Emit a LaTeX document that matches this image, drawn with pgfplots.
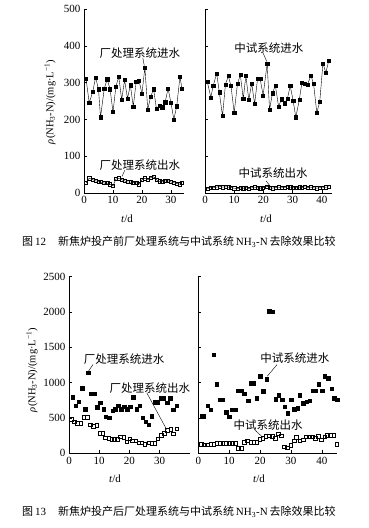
\documentclass[border=0pt]{standalone}
\usepackage{pgfplots}
\pgfplotsset{compat=1.18}
\usepackage{fontspec}
\setmainfont{Liberation Serif}
\newfontfamily\cjk{Noto Sans CJK SC}

\pgfplotsset{
  base/.style={
    scale only axis,
    anchor=south west,
    axis x line=bottom, axis y line=left,
    axis line style={-, line width=0.6pt},
    tick align=inside,
    major tick length=3pt,
    tick style={line width=0.5pt, black},
    xmin=0, ymin=0,
    clip=false,
    /pgf/number format/assume math mode=true,
    /pgf/number format/set thousands separator={},
    ticklabel style={font=\fontsize{11}{13}\selectfont},
  },
  inl/.style={black, line width=0.4pt, mark=square*, mark size=1.6pt, mark options={solid, fill=black}},
  outl/.style={black, line width=0.4pt, mark=square, mark size=1.6pt, mark options={solid, fill=white}},
  inb/.style={black, only marks, mark=square*, mark size=1.7pt, mark options={fill=black}},
  outb/.style={black, only marks, mark=square, mark size=1.8pt, mark options={fill=white, line width=0.5pt}},
}
\tikzset{lab/.style={font=\cjk\fontsize{11.5}{13}\selectfont, inner sep=0pt}}

\begin{document}
\begin{tikzpicture}
\path[use as bounding box] (0,0) rectangle (368pt,528pt);

% ---------- Fig 12 left ----------
\begin{axis}[base, at={(84pt,335pt)}, width=100pt, height=184pt,
  xmax=34.5, ymax=500, xtick={0,10,20,30}, ytick={0,100,200,300,400,500}]
\addplot[inl] coordinates {
(0.7,311)(1.8,245)(3,275)(4,314)(5,282)(5.7,206)(7,284)(8,309)(9,282)(10,220)
(11,289)(12,316)(13,253)(14,307)(15,257)(16,293)(17,235)(18,302)(19,305)(20,270)
(21,341)(22,227)(23,262)(24,282)(25,229)(26,238)(27,233)(28,247)(29,284)(30,245)
(31,200)(32,236)(33.1,316)(33.8,284)};
\addplot[outl] coordinates {
(0.7,27)(1.8,40)(3,36)(4,33)(5,31)(5.7,30)(7,27)(8,27)(9,24)(10,19)
(11,38)(12,40)(13,36)(14,33)(15,30)(16,30)(17,28)(18,28)(19,24)(20,36)
(21,40)(22,36)(23,42)(24,44)(25,36)(26,32)(27,30)(28,33)(29,33)(30,30)
(31,28)(32,26)(33.1,24)(33.8,28)};
\node[lab] at (axis cs:19.3,380) {厂处理系统进水};
\draw[line width=0.4pt] (axis cs:20.3,367) -- (axis cs:20.8,346);
\node[lab] at (axis cs:19.3,76) {厂处理系统出水};
\draw[line width=0.4pt] (axis cs:14.1,62) -- (axis cs:13.1,45);
\end{axis}

% ---------- Fig 12 right ----------
\begin{axis}[base, at={(205pt,335pt)}, width=127pt, height=184pt,
  xmax=43.5, ymax=500, xtick={0,10,20,30,40}, ytick={0,100,200,300,400,500}, yticklabels={}]
\addplot[inl] coordinates {
(0.8,302)(2,260)(2.8,291)(4,325)(4.9,274)(6,209)(7,295)(8,318)(8.9,291)(10,218)
(11.1,296)(12.1,321)(13.1,256)(14,319)(15,253)(16,298)(17,242)(18,310)(18.9,310)(19.9,265)
(21.3,352)(22.1,226)(23.1,271)(24.1,292)(25.2,235)(26.2,255)(27.2,244)(28.2,256)(29.2,291)(30.2,250)
(31.1,206)(32.3,253)(33.2,300)(34.1,297)(35.1,295)(36.3,319)(37.2,296)(38.3,218)(39.3,248)(40.4,352)
(41.4,327)(42.4,360)};
\addplot[outl] coordinates {
(0.8,12)(2,15)(2.8,14)(4,16)(4.9,18)(6,16)(7,17)(8,16)(8.9,15)(10,13)
(11.1,12)(12.1,14)(13.1,13)(14,15)(15,12)(16,14)(17,16)(18,14)(18.9,13)(19.9,15)
(21.3,18)(22.1,14)(23.1,13)(24.1,15)(25.2,16)(26.2,14)(27.2,15)(28.2,17)(29.2,16)(30.2,15)
(31.1,14)(32.3,16)(33.2,15)(34.1,17)(35.1,15)(36.3,16)(37.2,14)(38.3,13)(39.3,15)(40.4,14)
(41.4,16)(42.4,17)};
\node[lab] at (axis cs:21.9,394) {中试系统进水};
\draw[line width=0.4pt] (axis cs:19.9,380) -- (axis cs:21.2,357);
\node[lab] at (axis cs:23.3,54) {中试系统出水};
\draw[line width=0.4pt] (axis cs:20.9,33) -- (axis cs:22.3,19);
\end{axis}

% ---------- Fig 13 left ----------
\begin{axis}[base, at={(69pt,74.7pt)}, width=121pt, height=176.6pt,
  xmax=40, ymax=2500, xtick={0,10,20,30}, ytick={0,500,1000,1500,2000,2500}]
\addplot[inb] coordinates {
(1.2,792)(2.3,670)(3.3,731)(4.3,920)(5.3,627)(6.3,1142)(7.3,840)(8.3,840)(9.3,651)(10.3,717)
(11.4,623)(12.2,519)(13.3,505)(14.4,604)(15.3,623)(16.3,670)(17.3,623)(18.2,660)(19.2,623)(20.2,660)
(21.2,792)(22.3,623)(23.4,670)(24.3,505)(25.3,448)(26.3,401)(27.3,528)(28.4,726)(29.3,726)(30.4,778)
(31.4,778)(32.5,717)(33.5,778)(34.5,613)(35.6,670)};
\addplot[outb] coordinates {
(0.7,486)(1.7,448)(2.7,425)(3.9,425)(4.9,509)(6.0,509)(7.0,406)(8.1,387)(9.2,396)(10.2,283)
(11.1,283)(12.0,222)(13.1,212)(14.1,198)(15.0,198)(16.0,198)(17.0,236)(18.1,226)(19.1,165)(20.1,208)
(21.0,179)(22.1,179)(23.0,151)(24.1,151)(25.1,132)(26.3,151)(27.3,142)(28.4,142)(29.4,208)(30.4,259)
(31.4,283)(32.5,330)(33.6,340)(34.5,274)(35.6,349)};
\node[lab] at (axis cs:18.2,1339) {厂处理系统进水};
\draw[line width=0.4pt] (axis cs:7.9,1256) -- (axis cs:6.4,1160);
\node[lab] at (axis cs:26.7,928) {厂处理系统出水};
\draw[line width=0.4pt] (axis cs:25.7,857) -- (axis cs:32.3,335);
\end{axis}

% ---------- Fig 13 right ----------
\begin{axis}[base, at={(198.3pt,74.7pt)}, width=139pt, height=176.6pt,
  xmax=45, ymax=2500, xtick={0,10,20,30,40}, ytick={0,500,1000,1500,2000,2500}, yticklabels={}]
\addplot[inb] coordinates {
(1.1,528)(1.8,528)(3.0,675)(4.0,613)(5.0,1396)(6.0,976)(7.1,755)(7.9,755)(9.0,580)(10.0,519)
(11.0,613)(12.0,613)(12.9,887)(13.9,887)(14.9,840)(16.1,745)(17.0,990)(17.9,990)(19.0,778)(20.0,1094)
(21.0,877)(22.1,1047)(22.9,2014)(24.0,2005)(25.1,764)(26.1,821)(27.1,755)(28.0,660)(29.0,566)(30.1,755)
(31.0,623)(32.1,637)(32.9,825)(34.0,708)(35.0,731)(36.0,745)(37.1,887)(37.9,887)(38.9,976)(40.1,887)
(41.0,1094)(42.1,1061)(43.2,915)(44.0,778)(45.0,755)};
\addplot[outb] coordinates {
(0.9,132)(1.8,123)(3.0,123)(4.0,132)(5.0,132)(6.0,142)(7.1,142)(7.9,142)(9.0,142)(10.0,142)
(11.0,142)(12.0,142)(12.9,71)(13.9,71)(14.9,160)(15.9,179)(17.0,160)(17.9,160)(18.9,160)(19.9,198)
(20.9,212)(21.8,245)(22.9,250)(23.9,245)(24.9,212)(25.9,274)(26.8,250)(27.9,94)(28.8,80)(29.9,118)
(31.0,179)(31.8,226)(32.8,179)(33.9,189)(34.9,236)(35.9,236)(36.8,236)(37.8,212)(38.8,245)(39.9,189)
(40.9,236)(41.8,259)(42.8,259)(43.8,259)(44.8,132)};
\node[lab] at (axis cs:31.3,1354) {中试系统进水};
\draw[line width=0.4pt] (axis cs:25.5,1256) -- (axis cs:22.3,1090);
\node[lab] at (axis cs:22.6,402) {中试系统出水};
\draw[line width=0.4pt] (axis cs:18.3,331) -- (axis cs:20.9,225);
\end{axis}

% ---------- axis titles and captions ----------
\node[rotate=90, font=\fontsize{10.5}{12}\selectfont, inner sep=0pt] at (50pt,426pt)
  {{\itshape ρ}(NH\textsubscript{3}-N)/(mg·L\textsuperscript{−1})};
\node[rotate=90, font=\fontsize{10.5}{12}\selectfont, inner sep=0pt] at (32pt,158pt)
  {{\itshape ρ}(NH\textsubscript{3}-N)/(mg·L\textsuperscript{−1})};
\node[font=\fontsize{11}{12}\selectfont, inner sep=0pt] at (127pt,309pt) {{\itshape t}/d};
\node[font=\fontsize{11}{12}\selectfont, inner sep=0pt] at (266pt,309pt) {{\itshape t}/d};
\node[font=\fontsize{11}{12}\selectfont, inner sep=0pt] at (115pt,49pt) {{\itshape t}/d};
\node[font=\fontsize{11}{12}\selectfont, inner sep=0pt] at (259pt,49pt) {{\itshape t}/d};
\node[anchor=west, inner sep=0pt, font=\fontsize{11}{13}\selectfont] at (22pt,286pt)
  {{\cjk 图}\,12\hspace{1.1em}{\cjk 新焦炉投产前厂处理系统与中试系统}\,NH\textsubscript{3}-N\,{\cjk 去除效果比较}};
\node[anchor=west, inner sep=0pt, font=\fontsize{11}{13}\selectfont] at (22pt,16pt)
  {{\cjk 图}\,13\hspace{1.1em}{\cjk 新焦炉投产后厂处理系统与中试系统}\,NH\textsubscript{3}-N\,{\cjk 去除效果比较}};
\end{tikzpicture}
\end{document}
